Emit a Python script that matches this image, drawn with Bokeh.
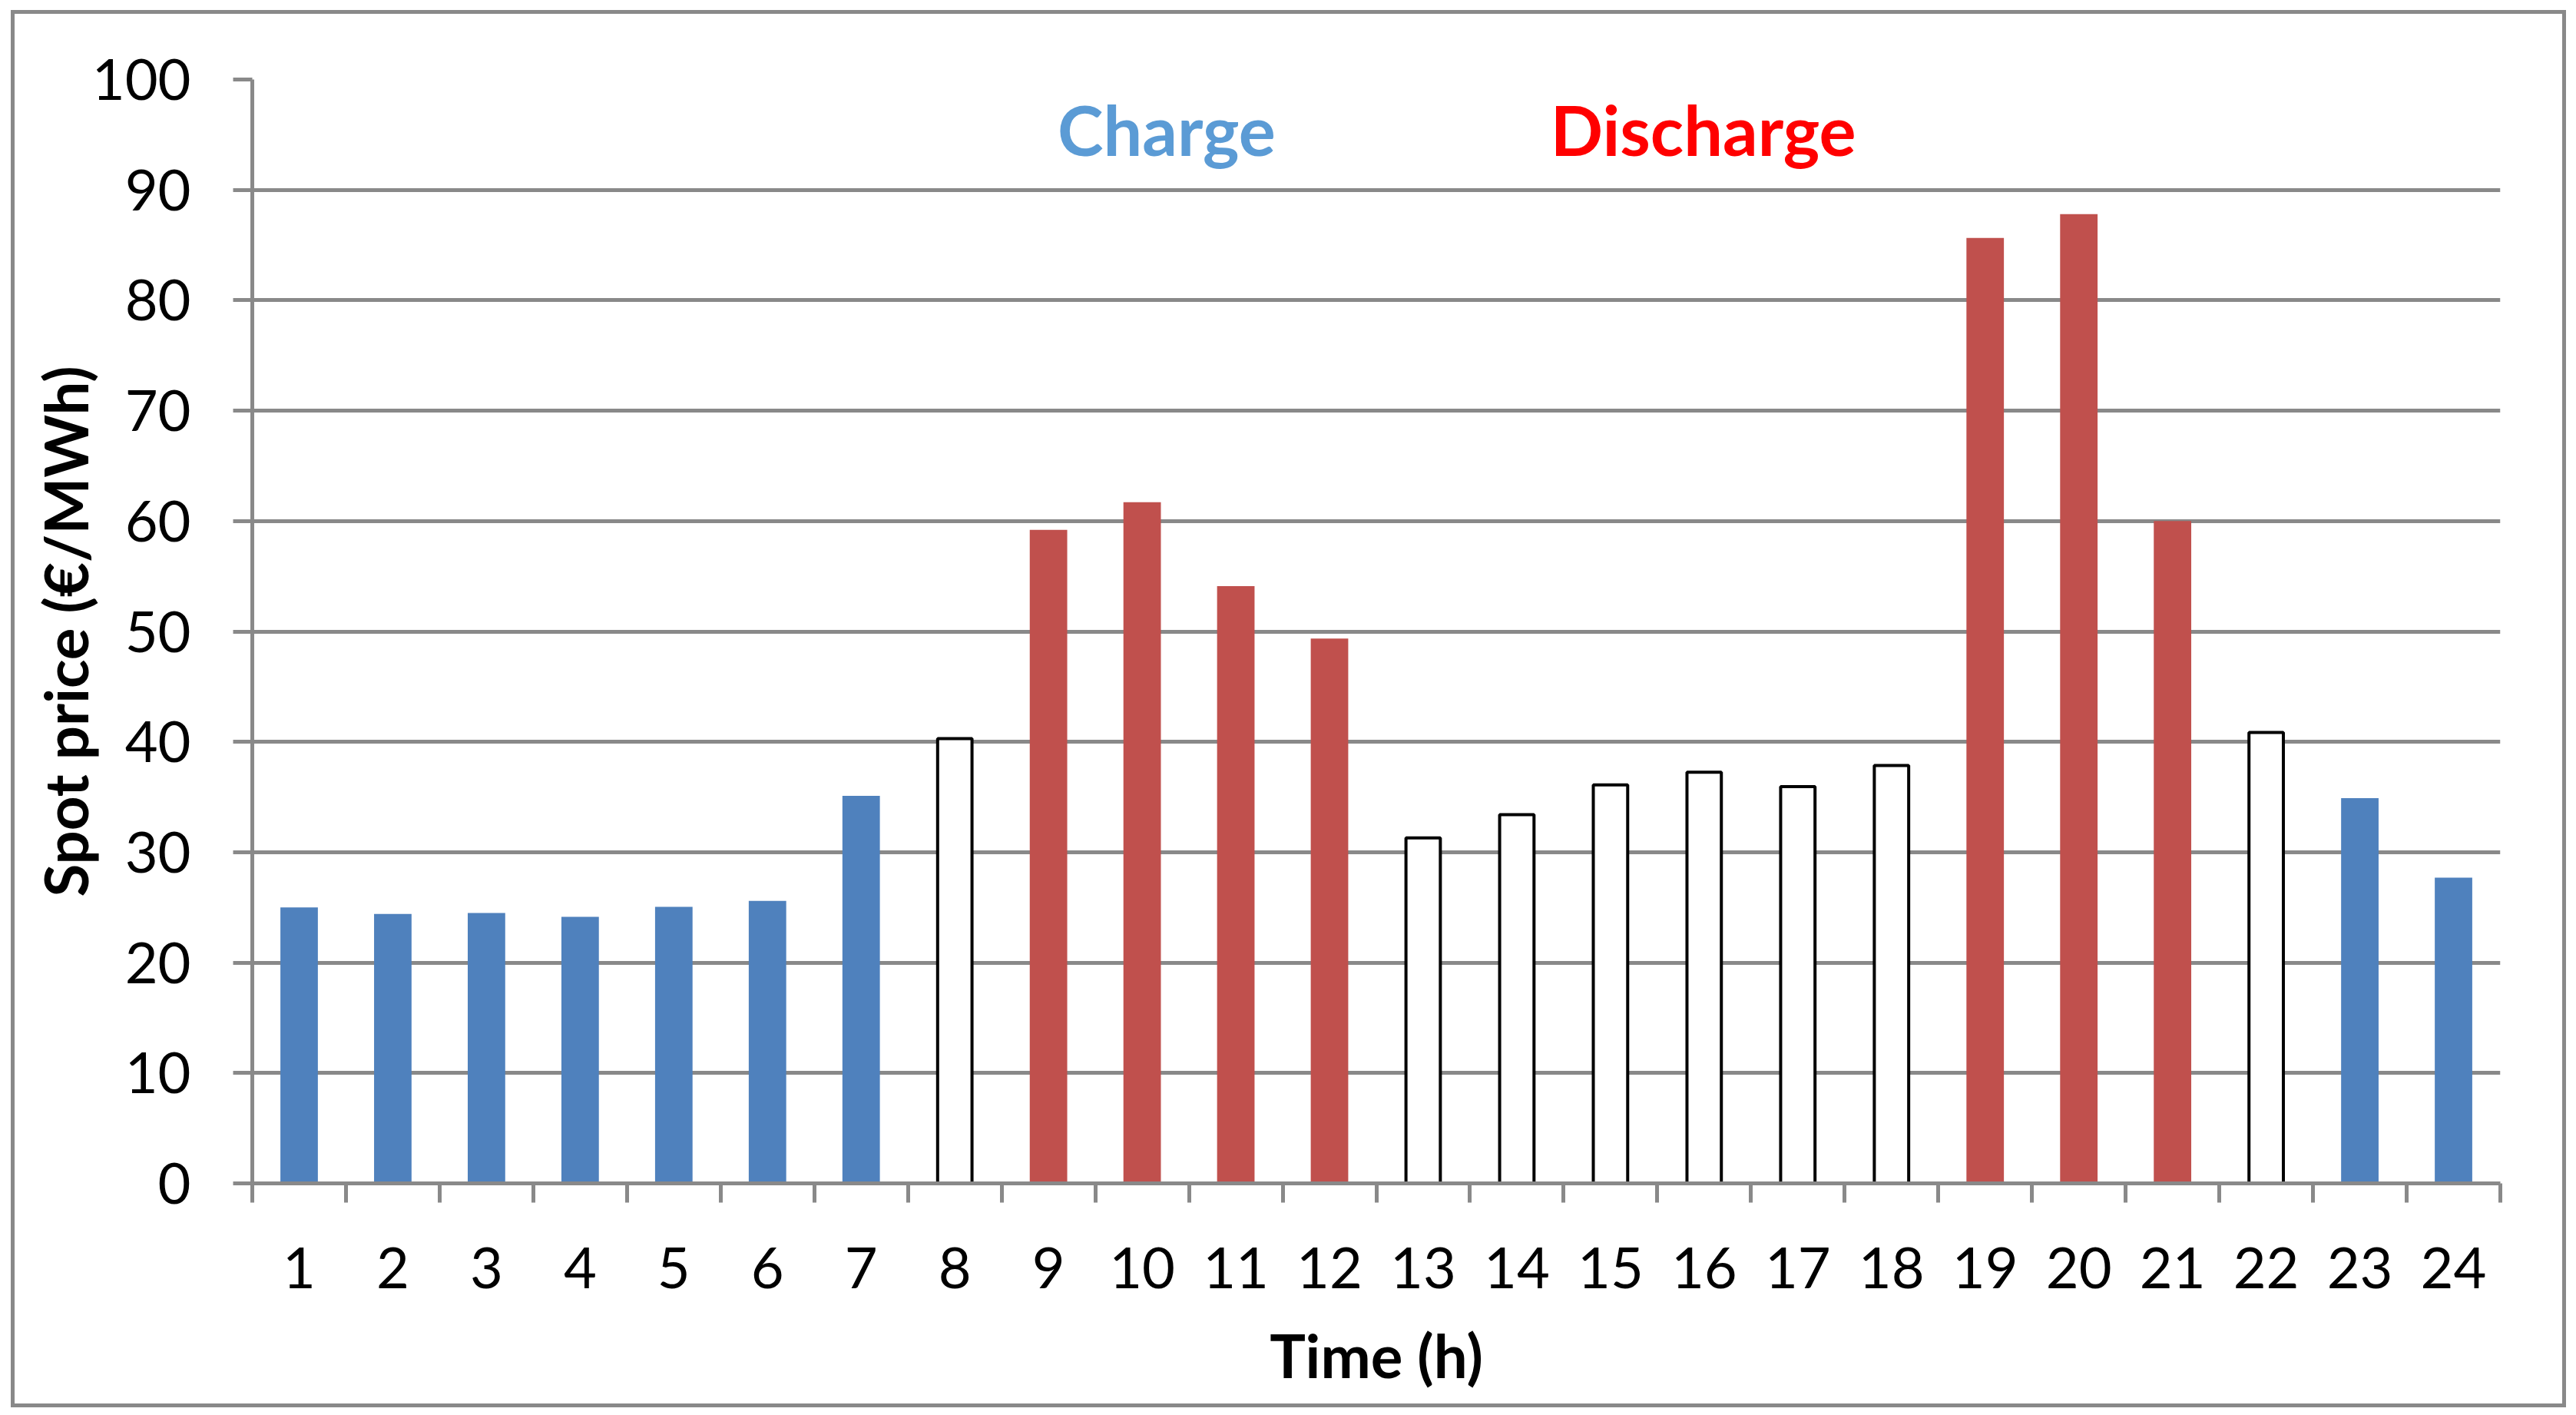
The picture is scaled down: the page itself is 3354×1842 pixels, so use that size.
from bokeh.plotting import figure
from bokeh.models import Range1d, FixedTicker, Label, ColumnDataSource
from bokeh.embed import file_html
from bokeh.resources import INLINE

# ---- data ----
hours = list(range(1, 25))
prices = [25.0, 24.4, 24.5, 24.15, 25.05, 25.6, 35.1, 40.3, 59.2, 61.7, 54.1, 49.35,
          31.3, 33.4, 36.1, 37.25, 35.95, 37.85, 85.65, 87.8, 60.0, 40.85, 34.9, 27.7]
modes = ["charge"] * 7 + ["idle"] + ["discharge"] * 4 + ["idle"] * 6 + \
        ["discharge"] * 3 + ["idle"] + ["charge"] * 2
y_ticks = list(range(0, 101, 10))
x_label = "Time (h)"
y_label = "Spot price (€/MWh)"
legend_texts = ["Charge", "Discharge"]

# ---- styles ----
GRAY = "#898989"
FONT = "Lato"
colors = {"charge": "#4F81BD", "discharge": "#C0504D"}

filled = [i for i, m in enumerate(modes) if m != "idle"]
empty = [i for i, m in enumerate(modes) if m == "idle"]

src_filled = ColumnDataSource(dict(
    x=[hours[i] for i in filled],
    top=[prices[i] for i in filled],
    color=[colors[modes[i]] for i in filled],
))
src_empty = ColumnDataSource(dict(
    x=[hours[i] for i in empty],
    top=[prices[i] for i in empty],
))

W, H = 3337, 1829
p = figure(width=W, height=H, output_backend="svg", toolbar_location=None,
           x_range=Range1d(0.5, 24.5), y_range=Range1d(0, 100),
           min_border_left=319, min_border_right=91, min_border_top=95,
           min_border_bottom=297)
p.outline_line_color = None
p.background_fill_color = "white"
p.border_fill_color = None
# outer chart frame drawn by CSS outline on the figure element
p.styles = {"margin-left": "9px", "margin-top": "8px",
            "outline": "5px solid #898989", "outline-offset": "-10px"}

# grid
p.xgrid.grid_line_color = None
p.ygrid.grid_line_color = GRAY
p.ygrid.grid_line_width = 5
p.ygrid.ticker = FixedTicker(ticks=y_ticks)

# bars
p.vbar(x="x", top="top", bottom=0, width=0.4, source=src_filled,
       fill_color="color", line_color=None)
p.vbar(x="x", top="top", bottom=0, width=0.367, source=src_empty,
       fill_color="white", line_color="black", line_width=4)

# x axis
xa = p.xaxis[0]
xa.ticker = FixedTicker(ticks=hours, minor_ticks=[h - 0.5 for h in hours] + [24.5])
xa.axis_line_color = GRAY
xa.axis_line_width = 5
xa.major_tick_line_color = None
xa.major_tick_out = 0
xa.major_tick_in = 0
xa.minor_tick_line_color = GRAY
xa.minor_tick_line_width = 5
xa.minor_tick_out = 25
xa.minor_tick_in = 0
xa.major_label_text_font = FONT
xa.major_label_text_font_size = "74px"
xa.major_label_text_color = "black"
xa.major_label_standoff = 58
xa.axis_label = x_label
xa.axis_label_text_font = FONT
xa.axis_label_text_font_style = "bold"
xa.axis_label_text_font_size = "78px"
xa.axis_label_text_color = "black"
xa.axis_label_standoff = 37

# y axis
ya = p.yaxis[0]
ya.ticker = FixedTicker(ticks=y_ticks)
ya.axis_line_color = GRAY
ya.axis_line_width = 5
ya.major_tick_line_color = GRAY
ya.major_tick_line_width = 5
ya.major_tick_out = 25
ya.major_tick_in = 0
ya.minor_tick_line_color = None
ya.major_label_text_font = FONT
ya.major_label_text_font_size = "74px"
ya.major_label_text_color = "black"
ya.major_label_standoff = 55
ya.axis_label = y_label
ya.axis_label_text_font = FONT
ya.axis_label_text_font_style = "bold"
ya.axis_label_text_font_size = "78px"
ya.axis_label_text_color = "black"
ya.axis_label_standoff = -15

# Charge / Discharge labels
p.add_layout(Label(x=10.26, y=95.5, text=legend_texts[0], text_align="center",
                   text_baseline="alphabetic", text_font=FONT, text_font_style="bold",
                   text_font_size="90px", text_color="#5B9BD5"))
p.add_layout(Label(x=15.99, y=95.5, text=legend_texts[1], text_align="center",
                   text_baseline="alphabetic", text_font=FONT, text_font_style="bold",
                   text_font_size="90px", text_color="#FF0000"))

open("out.html", "w").write(file_html(p, INLINE))
